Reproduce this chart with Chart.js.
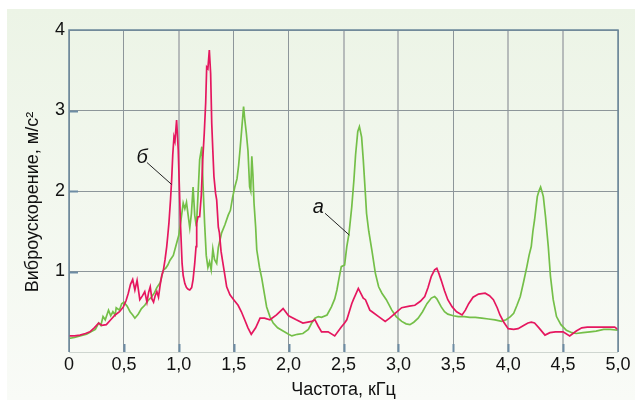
<!DOCTYPE html>
<html>
<head>
<meta charset="utf-8">
<script src="https://cdn.jsdelivr.net/npm/chart.js@4.4.1/dist/chart.umd.min.js"></script>
<style>
  html, body { margin: 0; padding: 0; background: #fff; }
  #wrap { width: 635px; height: 400px; position: relative; }
</style>
</head>
<body>
<div id="wrap"><canvas id="chart"></canvas></div>
<script>
// curve "а" (green)
var freqA = [0.00, 0.05, 0.10, 0.16, 0.20, 0.24, 0.27, 0.29, 0.31, 0.33, 0.36, 0.38, 0.40, 0.42, 0.43, 0.46, 0.48, 0.50, 0.53, 0.556,
    0.58, 0.60, 0.63, 0.66, 0.69, 0.72, 0.75, 0.78, 0.80, 0.83, 0.86, 0.88, 0.90, 0.92, 0.95, 0.98, 1.00, 1.02, 1.04, 1.055,
    1.07, 1.085, 1.10, 1.115, 1.13, 1.145, 1.16, 1.175, 1.19, 1.21, 1.22, 1.235, 1.25, 1.265, 1.28, 1.295, 1.31, 1.325, 1.345, 1.36,
    1.39, 1.42, 1.45, 1.47, 1.49, 1.51, 1.53, 1.545, 1.56, 1.575, 1.59, 1.60, 1.615, 1.63, 1.645, 1.655, 1.665, 1.675, 1.685, 1.70,
    1.71, 1.735, 1.755, 1.78, 1.80, 1.83, 1.86, 1.90, 1.95, 2.00, 2.03, 2.08, 2.13, 2.18, 2.21, 2.24, 2.27, 2.30, 2.35, 2.39,
    2.42, 2.44, 2.46, 2.48, 2.51, 2.53, 2.55, 2.575, 2.595, 2.61, 2.63, 2.645, 2.665, 2.68, 2.70, 2.71, 2.73, 2.76, 2.79, 2.82,
    2.85, 2.89, 2.94, 2.98, 3.03, 3.07, 3.105, 3.14, 3.18, 3.22, 3.26, 3.30, 3.33, 3.35, 3.39, 3.42, 3.45, 3.50, 3.545, 3.60,
    3.65, 3.70, 3.76, 3.82, 3.88, 3.94, 3.98, 4.02, 4.05, 4.08, 4.11, 4.14, 4.17, 4.19, 4.21, 4.225, 4.24, 4.265, 4.28, 4.295,
    4.31, 4.32, 4.34, 4.365, 4.385, 4.41, 4.44, 4.48, 4.53, 4.58, 4.62, 4.68, 4.745, 4.80, 4.87, 4.93, 5.00];
var valA = [0.17, 0.18, 0.20, 0.22, 0.25, 0.28, 0.36, 0.33, 0.44, 0.40, 0.52, 0.45, 0.50, 0.46, 0.55, 0.52, 0.60, 0.62, 0.57, 0.50,
    0.46, 0.42, 0.47, 0.54, 0.58, 0.64, 0.68, 0.74, 0.80, 0.86, 1.02, 1.04, 1.08, 1.14, 1.20, 1.35, 1.45, 1.64, 1.85, 1.78,
    1.86, 1.70, 1.54, 1.72, 2.05, 1.70, 1.56, 1.95, 2.39, 2.55, 2.10, 1.60, 1.20, 1.05, 1.12, 1.02, 1.28, 1.15, 1.10, 1.30,
    1.48, 1.58, 1.70, 1.76, 1.92, 2.05, 2.15, 2.32, 2.55, 2.80, 3.05, 2.90, 2.72, 2.50, 2.05, 2.00, 2.43, 2.20, 1.85, 1.55,
    1.27, 1.05, 0.92, 0.72, 0.56, 0.44, 0.36, 0.30, 0.26, 0.22, 0.20, 0.22, 0.23, 0.28, 0.36, 0.42, 0.44, 0.43, 0.46, 0.56,
    0.66, 0.77, 0.92, 1.06, 1.08, 1.31, 1.47, 1.80, 2.14, 2.45, 2.74, 2.80, 2.67, 2.39, 1.95, 1.72, 1.50, 1.25, 0.98, 0.81,
    0.73, 0.65, 0.52, 0.44, 0.38, 0.35, 0.34, 0.37, 0.42, 0.50, 0.60, 0.67, 0.69, 0.66, 0.56, 0.50, 0.47, 0.45, 0.44, 0.44,
    0.43, 0.43, 0.42, 0.41, 0.40, 0.38, 0.40, 0.44, 0.48, 0.58, 0.69, 0.87, 1.06, 1.20, 1.31, 1.50, 1.64, 1.93, 2.00, 2.05,
    1.98, 1.93, 1.68, 1.31, 0.94, 0.65, 0.44, 0.34, 0.27, 0.24, 0.23, 0.24, 0.25, 0.26, 0.28, 0.28, 0.27];

// curve "б" (red)
var freqB = [0.00, 0.05, 0.10, 0.15, 0.19, 0.23, 0.27, 0.30, 0.34, 0.38, 0.42, 0.46, 0.495, 0.52, 0.54, 0.56, 0.58, 0.60, 0.62, 0.645,
    0.67, 0.69, 0.71, 0.725, 0.74, 0.755, 0.77, 0.785, 0.80, 0.815, 0.83, 0.845, 0.86, 0.875, 0.89, 0.90, 0.91, 0.925, 0.935, 0.945,
    0.956, 0.965, 0.98, 0.995, 1.005, 1.015, 1.03, 1.04, 1.055, 1.07, 1.085, 1.10, 1.117, 1.13, 1.145, 1.157, 1.163, 1.175, 1.19, 1.205,
    1.218, 1.232, 1.245, 1.254, 1.265, 1.278, 1.29, 1.30, 1.31, 1.32, 1.335, 1.345, 1.36, 1.37, 1.385, 1.40, 1.42, 1.436, 1.466, 1.50,
    1.54, 1.57, 1.60, 1.63, 1.66, 1.70, 1.74, 1.78, 1.83, 1.89, 1.95, 2.00, 2.07, 2.13, 2.21, 2.24, 2.27, 2.30, 2.36, 2.42,
    2.48, 2.51, 2.53, 2.575, 2.59, 2.635, 2.68, 2.70, 2.74, 2.76, 2.82, 2.88, 2.92, 2.97, 3.03, 3.10, 3.15, 3.20, 3.24, 3.27,
    3.30, 3.33, 3.35, 3.37, 3.39, 3.42, 3.45, 3.49, 3.53, 3.58, 3.61, 3.64, 3.68, 3.73, 3.79, 3.83, 3.865, 3.90, 3.925, 3.96,
    4.00, 4.05, 4.09, 4.14, 4.18, 4.21, 4.24, 4.28, 4.335, 4.38, 4.43, 4.50, 4.56, 4.62, 4.67, 4.72, 4.82, 4.90, 4.97, 5.00];
var valB = [0.20, 0.20, 0.21, 0.23, 0.25, 0.30, 0.36, 0.33, 0.34, 0.40, 0.46, 0.50, 0.56, 0.64, 0.73, 0.84, 0.90, 0.77, 0.89, 0.65,
    0.70, 0.75, 0.62, 0.74, 0.81, 0.66, 0.62, 0.70, 0.75, 0.68, 0.83, 0.95, 1.02, 1.15, 1.31, 1.45, 1.60, 1.90, 2.14, 2.45,
    2.67, 2.62, 2.88, 2.51, 2.05, 1.60, 1.10, 0.95, 0.85, 0.80, 0.78, 0.77, 0.80, 0.90, 1.10, 1.31, 1.60, 1.68, 1.68, 1.95,
    2.39, 2.72, 3.10, 3.54, 3.52, 3.75, 3.46, 2.84, 2.50, 2.18, 1.97, 1.89, 1.55, 1.48, 1.25, 1.12, 0.95, 0.81, 0.71, 0.65,
    0.58, 0.50, 0.40, 0.30, 0.22, 0.30, 0.42, 0.42, 0.40, 0.46, 0.54, 0.45, 0.40, 0.36, 0.38, 0.40, 0.32, 0.25, 0.25, 0.20,
    0.31, 0.36, 0.40, 0.60, 0.65, 0.79, 0.67, 0.65, 0.52, 0.50, 0.44, 0.38, 0.42, 0.48, 0.55, 0.57, 0.58, 0.63, 0.69, 0.80,
    0.94, 1.02, 1.04, 0.97, 0.89, 0.76, 0.65, 0.56, 0.50, 0.46, 0.52, 0.60, 0.68, 0.72, 0.73, 0.70, 0.65, 0.55, 0.46, 0.37,
    0.29, 0.28, 0.29, 0.33, 0.36, 0.37, 0.36, 0.30, 0.21, 0.24, 0.25, 0.25, 0.20, 0.26, 0.30, 0.31, 0.31, 0.31, 0.31, 0.28];

// callout labels, in data units: [text, textX, textY, lineFromX, lineFromY, lineToX, lineToY]
var callouts = [
    ['б', 0.665, 2.35, 0.710, 2.354, 0.935, 2.081],
    ['а', 2.270, 1.727, 2.332, 1.723, 2.553, 1.453]
];

var xTitle = 'Частота, кГц';
var yTitle = 'Виброускорение, м/с²';

function toPoints(xs, ys) {
    var pts = [];
    for (var i = 0; i < xs.length; i++) {
        pts.push({x: xs[i], y: ys[i]});
    }
    return pts;
}

var FONT = "'Liberation Sans', Arial, sans-serif";
var lightX = [1.0, 2.5, 3.0, 4.0, 4.5];

var decorPlugin = {
    id: 'decor',
    beforeDraw: function (chart) {
        var ctx = chart.ctx;
        var g = ctx.createLinearGradient(0, 9, 0, 400);
        g.addColorStop(0, '#ecf4e6');
        g.addColorStop(1, '#f9fbf7');
        ctx.save();
        ctx.fillStyle = '#ffffff';
        ctx.fillRect(0, 0, chart.width, chart.height);
        ctx.fillStyle = g;
        ctx.fillRect(7, 9, chart.width - 7, chart.height - 9);
        ctx.restore();
    },
    afterDraw: function (chart) {
        var ctx = chart.ctx;
        var a = chart.chartArea;
        var xs = chart.scales.x, ys = chart.scales.y;
        ctx.save();

        // inner tick marks
        ctx.strokeStyle = '#6d8ca4';
        ctx.lineWidth = 2;
        xs.ticks.forEach(function (t) {
            if (t.value <= 0 || t.value >= 5) return;
            var px = Math.round(xs.getPixelForValue(t.value)) + 0.5;
            ctx.beginPath();
            ctx.moveTo(px, a.bottom);
            ctx.lineTo(px, a.bottom - 8);
            ctx.stroke();
        });
        ys.ticks.forEach(function (t) {
            if (t.value <= 0 || t.value >= 4) return;
            var py = Math.round(ys.getPixelForValue(t.value)) + 0.5;
            ctx.beginPath();
            ctx.moveTo(a.left, py);
            ctx.lineTo(a.left + 9, py);
            ctx.stroke();
        });

        // frame
        ctx.strokeStyle = '#6a879b';
        ctx.lineWidth = 1.5;
        ctx.beginPath();
        ctx.moveTo(a.left, a.bottom);
        ctx.lineTo(a.left, a.top);
        ctx.lineTo(a.right, a.top);
        ctx.lineTo(a.right, a.bottom);
        ctx.stroke();

        // callouts
        ctx.fillStyle = '#111';
        ctx.strokeStyle = '#222';
        ctx.lineWidth = 1;
        ctx.font = 'italic 20px ' + FONT;
        ctx.textAlign = 'center';
        ctx.textBaseline = 'alphabetic';
        callouts.forEach(function (c) {
            ctx.fillText(c[0], xs.getPixelForValue(c[1]), ys.getPixelForValue(c[2]));
            ctx.beginPath();
            ctx.moveTo(xs.getPixelForValue(c[3]), ys.getPixelForValue(c[4]));
            ctx.lineTo(xs.getPixelForValue(c[5]), ys.getPixelForValue(c[6]));
            ctx.stroke();
        });

        // y axis title
        ctx.font = '18px ' + FONT;
        ctx.fillStyle = '#111';
        ctx.translate(37.5, 202);
        ctx.rotate(-Math.PI / 2);
        ctx.fillText(yTitle, 0, 0);
        ctx.restore();
    }
};

new Chart(document.getElementById('chart'), {
    type: 'line',
    data: {
        datasets: [{
            label: 'б',
            data: toPoints(freqB, valB),
            borderColor: '#e5175f',
            borderWidth: 1.7,
            pointRadius: 0,
            tension: 0,
            fill: false
        }, {
            label: 'а',
            data: toPoints(freqA, valA),
            borderColor: '#74bf48',
            borderWidth: 1.7,
            pointRadius: 0,
            tension: 0,
            fill: false
        }]
    },
    options: {
        responsive: true,
        maintainAspectRatio: false,
        devicePixelRatio: 1,
        animation: false,
        layout: {padding: {left: 0, top: 30, right: 17, bottom: 0}},
        plugins: {
            legend: {display: false},
            tooltip: {enabled: false}
        },
        scales: {
            x: {
                type: 'linear',
                min: 0,
                max: 5,
                afterFit: function (s) { s.height = 48; },
                border: {display: false},
                grid: {
                    drawTicks: false,
                    color: function (c) {
                        return lightX.indexOf(c.tick.value) >= 0 ? '#b6bbba' : '#8d969a';
                    },
                    lineWidth: function (c) {
                        return lightX.indexOf(c.tick.value) >= 0 ? 2 : 1;
                    }
                },
                ticks: {
                    stepSize: 0.5,
                    autoSkip: false,
                    maxRotation: 0,
                    padding: 2,
                    color: '#111',
                    font: {family: FONT, size: 18},
                    callback: function (v) {
                        return v === 0 ? '0' : v.toFixed(1).replace('.', ',');
                    }
                },
                title: {
                    display: true,
                    text: xTitle,
                    color: '#111',
                    font: {family: FONT, size: 18, lineHeight: 1.0},
                    padding: {top: 0, bottom: 1}
                }
            },
            y: {
                min: 0,
                max: 4,
                afterFit: function (s) { s.width = 69; },
                border: {display: false},
                grid: {
                    drawTicks: false,
                    color: function (c) {
                        return c.tick.value === 0 ? '#cfd6d0' : '#8d969a';
                    }
                },
                ticks: {
                    stepSize: 1,
                    padding: 4,
                    color: '#111',
                    font: {family: FONT, size: 18},
                    callback: function (v) {
                        return v === 0 ? '' : String(v);
                    }
                }
            }
        }
    },
    plugins: [decorPlugin]
});
</script>
</body>
</html>
